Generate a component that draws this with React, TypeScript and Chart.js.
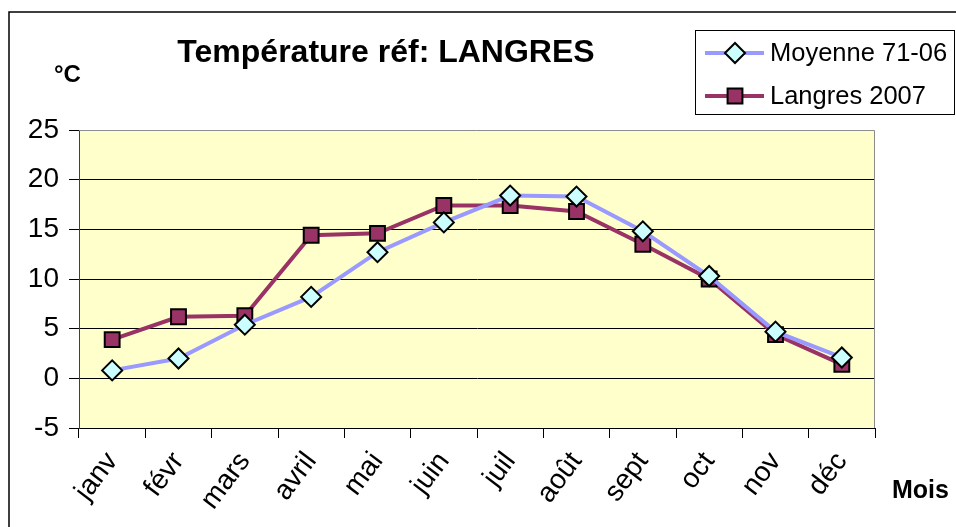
import React, { useEffect, useRef } from "react";
import { Chart, registerables } from "chart.js";
Chart.register(...registerables);

const months = ["janv", "févr", "mars", "avril", "mai", "juin", "juil", "août", "sept", "oct", "nov", "déc"];
const moyenne = [0.8, 2.0, 5.4, 8.2, 12.7, 15.7, 18.4, 18.3, 14.8, 10.3, 4.7, 2.1];
const langres = [3.9, 6.2, 6.3, 14.4, 14.6, 17.4, 17.4, 16.8, 13.5, 10.0, 4.4, 1.4];
const seriesNames = ["Moyenne 71-06", "Langres 2007"];
const yMin = -5;
const yMax = 25;
const yStep = 5;
const titleText = "Température réf: LANGRES";
const yUnit = "°C";
const xTitle = "Mois";

const FONT = "'Liberation Sans', Arial, sans-serif";

const decorPlugin = {
  id: "decor",
  beforeDraw(chart: any) {
    const { ctx, chartArea } = chart;
    ctx.save();
    ctx.fillStyle = "#ffffff";
    ctx.fillRect(0, 0, chart.width, chart.height);
    ctx.fillStyle = "#FFFFCC";
    ctx.fillRect(chartArea.left, chartArea.top, chartArea.right - chartArea.left, chartArea.bottom - chartArea.top);
    ctx.strokeStyle = "#000";
    ctx.lineWidth = 1.5;
    ctx.beginPath();
    ctx.moveTo(9, chart.height + 5);
    ctx.lineTo(9, 12);
    ctx.lineTo(chart.width + 5, 12);
    ctx.stroke();
    ctx.restore();
  },
  beforeDatasetsDraw(chart: any) {
    const { ctx, chartArea } = chart;
    ctx.save();
    ctx.strokeStyle = "#8c8c8c";
    ctx.lineWidth = 1;
    ctx.beginPath();
    ctx.moveTo(chartArea.left, chartArea.top + 0.5);
    ctx.lineTo(chartArea.right - 0.5, chartArea.top + 0.5);
    ctx.lineTo(chartArea.right - 0.5, chartArea.bottom);
    ctx.stroke();
    ctx.restore();
  },
  afterDraw(chart: any) {
    const { ctx } = chart;
    ctx.save();
    ctx.fillStyle = "#000";
    ctx.textBaseline = "alphabetic";
    ctx.font = `bold 32px ${FONT}`;
    ctx.textAlign = "center";
    ctx.fillText(titleText, 386, 62);
    ctx.font = `bold 24px ${FONT}`;
    ctx.textAlign = "left";
    ctx.fillText(yUnit, 54, 82);
    ctx.font = `bold 25px ${FONT}`;
    ctx.fillText(xTitle, 892, 498);
    ctx.fillStyle = "#fff";
    ctx.fillRect(695, 30, 259, 84);
    ctx.strokeStyle = "#000";
    ctx.lineWidth = 1;
    ctx.strokeRect(695.5, 30.5, 259, 84);
    const ds = chart.data.datasets;
    const rows = [53, 96];
    ds.forEach((d: any, i: number) => {
      const y = rows[i];
      ctx.strokeStyle = d.borderColor;
      ctx.lineWidth = d.borderWidth;
      ctx.beginPath();
      ctx.moveTo(705, y);
      ctx.lineTo(764, y);
      ctx.stroke();
      ctx.fillStyle = d.pointBackgroundColor;
      ctx.strokeStyle = d.pointBorderColor;
      ctx.lineWidth = d.pointBorderWidth;
      const cx = 735;
      ctx.beginPath();
      if (d.pointStyle === "rectRot") {
        const r = d.pointRadius;
        ctx.moveTo(cx - r, y);
        ctx.lineTo(cx, y - r);
        ctx.lineTo(cx + r, y);
        ctx.lineTo(cx, y + r);
        ctx.closePath();
      } else {
        const s = d.pointRadius * Math.SQRT1_2;
        ctx.rect(cx - s, y - s, 2 * s, 2 * s);
      }
      ctx.fill();
      ctx.stroke();
      ctx.fillStyle = "#000";
      ctx.font = `25.5px ${FONT}`;
      ctx.textAlign = "left";
      ctx.fillText(d.label, 770, y + 8);
    });
    ctx.restore();
  },
};

export default function App() {
  const ref = useRef<HTMLCanvasElement>(null);
  useEffect(() => {
    const prevMargin = document.body.style.margin;
    document.body.style.margin = "0";
    const chart = new Chart(ref.current as HTMLCanvasElement, {
      type: "line",
      data: {
        labels: months,
        datasets: [
          {
            label: seriesNames[0],
            data: moyenne,
            borderColor: "#9999FF",
            borderWidth: 4,
            pointStyle: "rectRot",
            pointRadius: 10,
            pointHoverRadius: 10,
            pointBackgroundColor: "#CCFFFF",
            pointBorderColor: "#000",
            pointBorderWidth: 2,
            tension: 0,
          },
          {
            label: seriesNames[1],
            data: langres,
            borderColor: "#993366",
            borderWidth: 4,
            pointStyle: "rect",
            pointRadius: 10.5,
            pointHoverRadius: 10.5,
            pointBackgroundColor: "#993366",
            pointBorderColor: "#000",
            pointBorderWidth: 2,
            tension: 0,
          },
        ],
      },
      options: {
        responsive: false,
        animation: false,
        events: [],
        layout: { padding: { top: 130, right: 81, bottom: 0, left: 0 } },
        plugins: { legend: { display: false }, title: { display: false }, tooltip: { enabled: false } },
        scales: {
          x: {
            offset: true,
            grid: { offset: true, drawOnChartArea: false, drawTicks: true, tickLength: 10, color: "#000", tickColor: "#000" },
            border: { color: "#000", width: 1 },
            ticks: {
              color: "#000",
              font: { family: FONT, size: 28 },
              minRotation: 53,
              maxRotation: 53,
              padding: 8,
              autoSkip: false,
            },
            afterFit: (s: any) => {
              s.height = 99;
            },
          },
          y: {
            min: yMin,
            max: yMax,
            ticks: { stepSize: yStep, color: "#000", font: { family: FONT, size: 28 }, padding: 10 },
            grid: {
              color: (c: any) => (c.tick && c.tick.value === yMax ? "rgba(0,0,0,0)" : c.tick && c.tick.value === yMin ? "#404040" : "#000"),
              tickColor: "#000",
              tickLength: 10,
              lineWidth: 1,
            },
            border: { color: "#404040", width: 1 },
            afterFit: (s: any) => {
              s.width = 79;
            },
          },
        },
      },
      plugins: [decorPlugin],
    });
    return () => {
      chart.destroy();
      document.body.style.margin = prevMargin;
    };
  }, []);
  return (
    <div style={{ position: "absolute", left: 0, top: 0, width: 956, height: 527 }}>
      <canvas ref={ref} width={956} height={527} />
    </div>
  );
}
